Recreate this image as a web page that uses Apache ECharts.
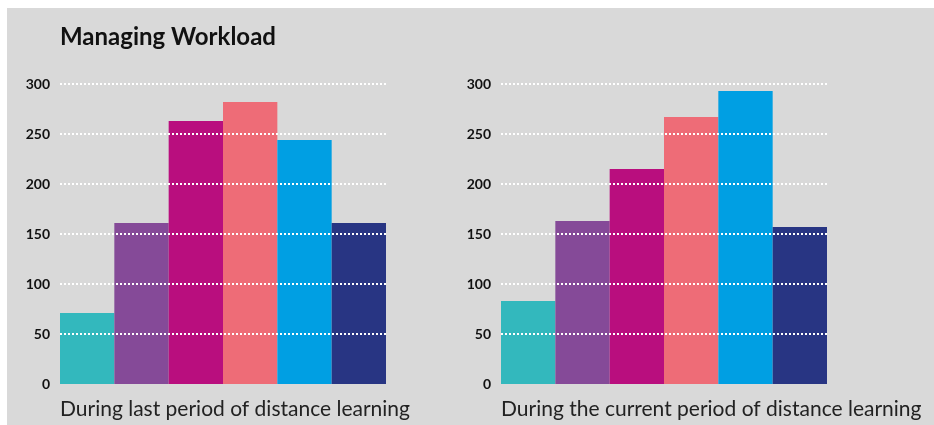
<!DOCTYPE html>
<html>
<head>
<meta charset="utf-8">
<script src="https://cdn.jsdelivr.net/npm/echarts@6/dist/echarts.min.js"></script>
<style>
  html, body { margin: 0; padding: 0; background: #fff; }
  #main { width: 934px; height: 425px; }
</style>
</head>
<body>
<div id="main"></div>
<script>
// data
var categories = ['Group 1', 'Group 2', 'Group 3', 'Group 4', 'Group 5', 'Group 6'];
var lastPeriod = [71, 161, 263, 282, 244, 161];
var currentPeriod = [83, 163, 215, 267, 293, 157];
var panelNames = ['During last period of distance learning', 'During the current period of distance learning'];
var barColors = ['#33b8bd', '#854a98', '#b90e7e', '#ee6c77', '#009fe3', '#283583'];

var chart = echarts.init(document.getElementById('main'));

// coloured bars, one colour per category
function colored(values) {
    return values.map(function (v, i) {
        return { value: v, itemStyle: { color: barColors[i] } };
    });
}

function yAxisFor(idx) {
    return {
        type: 'value',
        gridIndex: idx,
        min: 0,
        max: 300,
        interval: 50,
        z: 5,
        axisLine: { show: false },
        axisTick: { show: false },
        axisLabel: {
            margin: 10,
            color: '#111',
            fontFamily: 'Lato',
            fontWeight: 'bold',
            fontSize: 14
        },
        splitLine: {
            show: true,
            showMinLine: false,
            lineStyle: { color: '#ffffff', width: 2, type: [2, 2] }
        }
    };
}

function xAxisFor(idx) {
    return {
        type: 'category',
        gridIndex: idx,
        data: categories,
        axisLine: { show: false },
        axisTick: { show: false },
        axisLabel: { show: false },
        splitLine: { show: false }
    };
}

var option = {
    animation: false,
    graphic: [{
        type: 'rect',
        left: 7, top: 8, z: -10,
        shape: { width: 927, height: 417 },
        style: { fill: '#d9d9d9' }
    }],
    title: [{
        text: 'Managing Workload',
        left: 60, top: 25, padding: 0,
        textStyle: { color: '#111', fontFamily: 'Lato', fontWeight: 'bold', fontSize: 24 }
    }, {
        text: panelNames[0],
        left: 60, top: 399, padding: 0,
        textStyle: { color: '#222', fontFamily: 'Lato', fontWeight: 'normal', fontSize: 21 }
    }, {
        text: panelNames[1],
        left: 501, top: 399, padding: 0,
        textStyle: { color: '#222', fontFamily: 'Lato', fontWeight: 'normal', fontSize: 21 }
    }],
    grid: [
        { left: 60, top: 84, width: 326, height: 300 },
        { left: 501, top: 84, width: 326, height: 300 }
    ],
    xAxis: [xAxisFor(0), xAxisFor(1)],
    yAxis: [yAxisFor(0), yAxisFor(1)],
    series: [{
        type: 'bar',
        xAxisIndex: 0, yAxisIndex: 0,
        barCategoryGap: 0,
        data: colored(lastPeriod)
    }, {
        type: 'bar',
        xAxisIndex: 1, yAxisIndex: 1,
        barCategoryGap: 0,
        data: colored(currentPeriod)
    }]
};

chart.setOption(option);
</script>
</body>
</html>
